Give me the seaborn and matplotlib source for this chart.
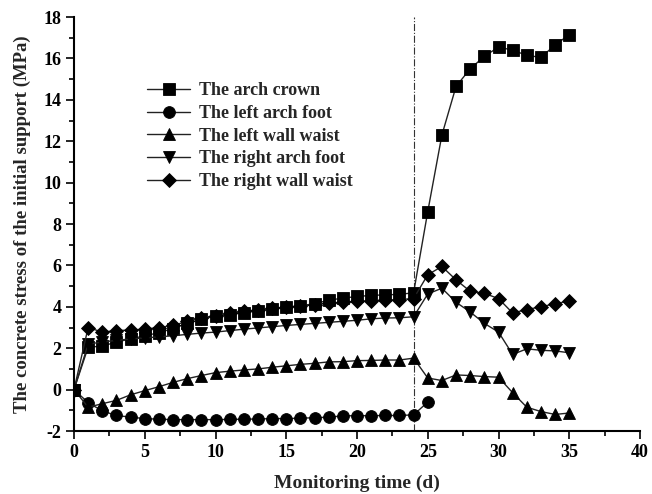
import matplotlib
matplotlib.use("Agg")
import matplotlib.pyplot as plt
import seaborn as sns
import pandas as pd
from matplotlib.ticker import MultipleLocator

days = list(range(0, 36))
days_left_foot = list(range(0, 26))

arch_crown = [0, 2.05, 2.1, 2.3, 2.45, 2.6, 2.75, 2.95, 3.2, 3.4, 3.55, 3.62, 3.72, 3.8, 3.9, 3.97, 4.05, 4.15, 4.32, 4.42, 4.5, 4.55, 4.58, 4.6, 4.68,
              8.6, 12.3, 14.65, 15.5, 16.1, 16.55, 16.4, 16.15, 16.05, 16.65, 17.15]
left_arch_foot = [0, -0.63, -1.03, -1.25, -1.33, -1.4, -1.43, -1.45, -1.45, -1.45, -1.45, -1.44, -1.43, -1.42, -1.4, -1.4, -1.38, -1.36, -1.33, -1.27, -1.26, -1.26, -1.25, -1.25, -1.22,
                  -0.6]
left_wall_waist = [0, -0.85, -0.68, -0.52, -0.25, -0.05, 0.14, 0.35, 0.53, 0.68, 0.82, 0.89, 0.95, 1.0, 1.08, 1.15, 1.22, 1.27, 1.34, 1.35, 1.4, 1.41, 1.43, 1.43, 1.52,
                   0.56, 0.44, 0.71, 0.68, 0.63, 0.6, -0.15, -0.85, -1.06, -1.2, -1.13]
right_arch_foot = [0, 2.2, 2.3, 2.38, 2.45, 2.5, 2.55, 2.6, 2.67, 2.73, 2.78, 2.85, 2.92, 2.98, 3.04, 3.1, 3.15, 3.2, 3.25, 3.3, 3.35, 3.42, 3.46, 3.47, 3.52,
                   4.62, 4.9, 4.22, 3.75, 3.2, 2.78, 1.7, 1.97, 1.9, 1.87, 1.78]
right_wall_waist = [0, 3.0, 2.78, 2.85, 2.88, 2.92, 3.0, 3.1, 3.3, 3.47, 3.58, 3.68, 3.78, 3.85, 3.92, 3.98, 4.05, 4.1, 4.18, 4.22, 4.27, 4.3, 4.33, 4.35, 4.4,
                    5.55, 5.95, 5.3, 4.75, 4.65, 4.4, 3.7, 3.87, 4.0, 4.15, 4.28]

labels = ["The arch crown", "The left arch foot", "The left wall waist",
          "The right arch foot", "The right wall waist"]
markers = ["s", "o", "^", "v", "D"]
marker_sizes = [8, 8.5, 9, 9, 7.5]
series_x = [days, days_left_foot, days, days, days]
series_y = [arch_crown, left_arch_foot, left_wall_waist, right_arch_foot, right_wall_waist]

construction_day = 24

sns.set_theme(style="ticks")
plt.rcParams['font.family'] = ['Liberation Serif', 'DejaVu Serif']
plt.rcParams['font.weight'] = 'bold'
plt.rcParams['axes.unicode_minus'] = False

fig = plt.figure(figsize=(6.52, 4.94), dpi=100)
ax = fig.add_axes([0.1135, 0.1275, 0.8681, 0.838])

for xs, ys, lab, m, ms in zip(series_x, series_y, labels, markers, marker_sizes):
    df = pd.DataFrame({"t": xs, "v": ys})
    sns.lineplot(data=df, x="t", y="v", ax=ax, color="#222222", linewidth=1.0,
                 marker=m, markersize=ms, markerfacecolor="black",
                 markeredgecolor="black", markeredgewidth=0.6, label=lab)

ax.axvline(construction_day, color="#333333", linewidth=0.8, linestyle="-.", zorder=0)

ax.set_xlim(0, 40)
ax.set_ylim(-2, 18)
ax.xaxis.set_major_locator(MultipleLocator(5))
ax.xaxis.set_minor_locator(MultipleLocator(2.5))
ax.yaxis.set_major_locator(MultipleLocator(2))
ax.yaxis.set_minor_locator(MultipleLocator(1))
ax.tick_params(which="major", direction="out", length=6, width=1.2, colors="black",
               labelsize=13, pad=3)
ax.tick_params(which="minor", direction="out", length=3.5, width=1.2, colors="black")
for lab in ax.get_xticklabels() + ax.get_yticklabels():
    lab.set_fontweight("bold")

for side in ["top", "right"]:
    ax.spines[side].set_visible(False)
for side in ["left", "bottom"]:
    ax.spines[side].set_color("black")
    ax.spines[side].set_linewidth(1.5)

ax.set_xlabel("Monitoring time (d)", fontsize=14, fontweight="bold", labelpad=10)
ax.set_ylabel("The concrete stress of the initial support (MPa)", fontsize=13.5,
              fontweight="bold", labelpad=9)

leg = ax.legend(loc="upper left", bbox_to_anchor=(0.1, 0.882), frameon=False,
                fontsize=13, handlelength=2.4, labelspacing=0.32, handletextpad=0.5)
for t in leg.get_texts():
    t.set_fontweight("bold")

fig.savefig("out.png", dpi=100)
